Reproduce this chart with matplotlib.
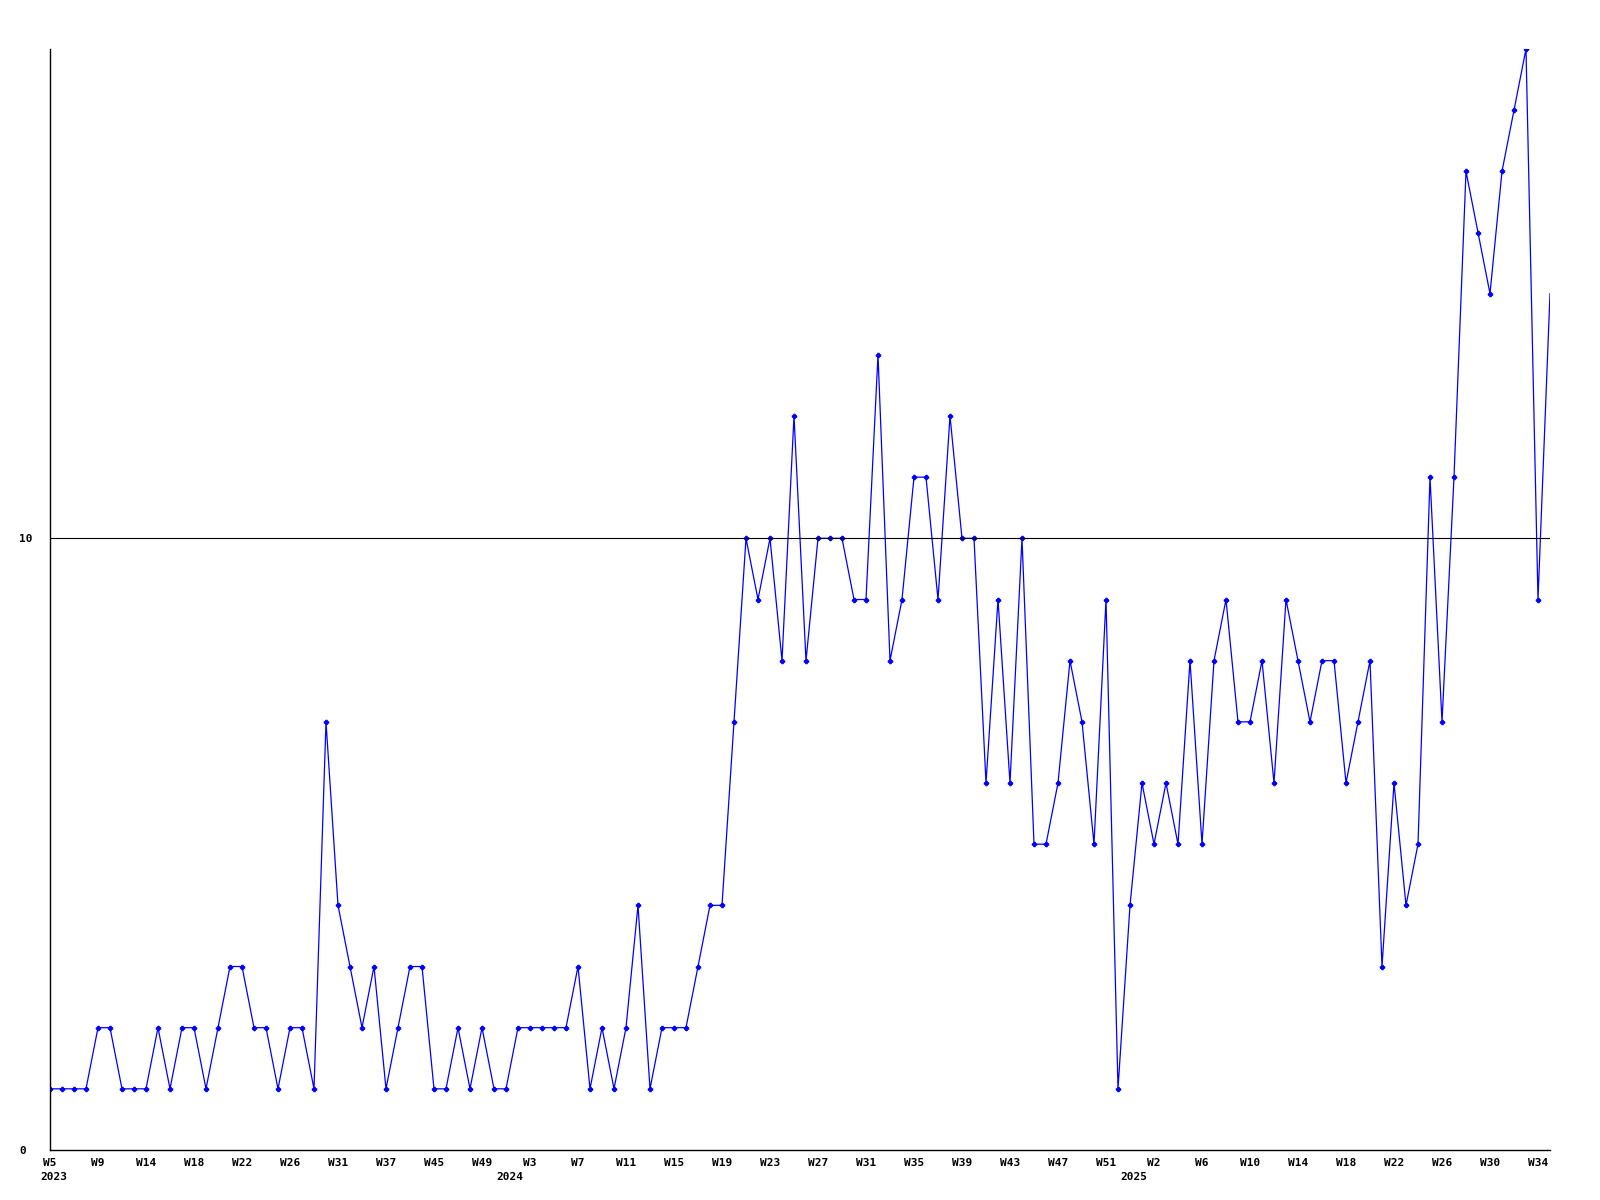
import numpy as np
import matplotlib
matplotlib.use("Agg")
import matplotlib.pyplot as plt

# weekly counts, 2023 W5 .. 2025 W35
counts = [1, 1, 1, 1, 2, 2, 1, 1, 1, 2, 1, 2, 2, 1, 2, 3, 3, 2, 2, 1,
          2, 2, 1, 7, 4, 3, 2, 3, 1, 2, 3, 3, 1, 1, 2, 1, 2, 1, 1, 2,
          2, 2, 2, 2, 3, 1, 2, 1, 2, 4, 1, 2, 2, 2, 3, 4, 4, 7, 10, 9,
          10, 8, 12, 8, 10, 10, 10, 9, 9, 13, 8, 9, 11, 11, 9, 12, 10, 10, 6, 9,
          6, 10, 5, 5, 6, 8, 7, 5, 9, 1, 4, 6, 5, 6, 5, 8, 5, 8, 9, 7,
          7, 8, 6, 9, 8, 7, 8, 8, 6, 7, 8, 3, 6, 4, 5, 11, 7, 11, 16, 15,
          14, 16, 17, 18, 9, 14]

week_labels = ['W5', 'W9', 'W14', 'W18', 'W22', 'W26', 'W31', 'W37', 'W45', 'W49',
               'W3', 'W7', 'W11', 'W15', 'W19', 'W23', 'W27', 'W31', 'W35', 'W39',
               'W43', 'W47', 'W51', 'W2', 'W6', 'W10', 'W14', 'W18', 'W22', 'W26',
               'W30', 'W34']
years = ['2023', '2024', '2025']
year_pos = [0, 38, 90]

x = np.arange(len(counts))

fig = plt.figure(figsize=(16, 12), dpi=100)
ax = fig.add_axes([50/1600, 1 - 1150/1200, 1500/1600, 1101/1200])

ax.plot(x, counts, color='#0000ff', linewidth=0.9, marker='P', markersize=3,
        markevery=list(range(len(counts) - 1)))
ax.axhline(10, color='black', linewidth=0.8)

ax.set_xlim(0, len(counts) - 1)
ax.set_ylim(0, 18)
for s in ['top', 'right']:
    ax.spines[s].set_visible(False)
for s in ['left', 'bottom']:
    ax.spines[s].set_linewidth(1.0)

font = dict(family='DejaVu Sans Mono', weight='bold', size=8)

ax.set_xticks(x[::4])
ax.set_xticklabels(week_labels, **font)
ax.set_yticks([0, 10])
ax.set_yticklabels(['0', '10'], **font)
for lab in ax.get_yticklabels():
    lab.set_horizontalalignment('left')
ax.tick_params(axis='x', length=0, pad=6)
ax.tick_params(axis='y', length=0, pad=22.3)

for yr, p in zip(years, year_pos):
    ax.annotate(yr, xy=(p, 0), xycoords=('data', 'axes fraction'),
                xytext=(-7, -16), textcoords='offset points',
                ha='left', va='top', **font)

fig.savefig('out.png', dpi=100, facecolor='white')
